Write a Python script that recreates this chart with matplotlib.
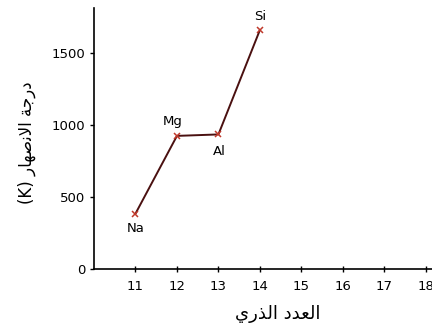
import matplotlib
matplotlib.use('Agg')
import matplotlib.pyplot as plt

plt.rcParams['font.family'] = ['DejaVu Sans']

# atomic number vs melting point (K)
atomic_number = [11, 12, 13, 14]
melting_point = [385, 925, 935, 1660]
symbols = ['Na', 'Mg', 'Al', 'Si']
x_ticks = [11, 12, 13, 14, 15, 16, 17, 18]
y_ticks = [0, 500, 1000, 1500]

# Arabic labels, pre-shaped (presentation forms, visual order)
ylabel = '(K) ' + '\uFEAD\uFE8E\uFEEC\uFEBB\uFEE7\uFEFB\uFE8D' + ' ' + '\uFE94\uFE9F\uFEAD\uFEA9'
xlabel = '\uFEF1\uFEAD\uFEAC\uFEDF\uFE8D' + ' ' + '\uFEA9\uFEAA\uFECC\uFEDF\uFE8D'

fig = plt.figure(figsize=(4.32, 3.25), dpi=100)
ax = fig.add_axes([0.2176, 0.172, 0.7824, 0.803])

ax.plot(atomic_number, melting_point, color='#4a1010', lw=1.4,
        marker='x', ms=5, mec='#c0392b', mew=1.1)

# element labels: offset in points (above / below the marker)
offsets = [(0, -11), (-3, 10), (1, -12), (0, 10)]
for x, y, s, (dx, dy) in zip(atomic_number, melting_point, symbols, offsets):
    ax.annotate(s, (x, y), xytext=(dx, dy), textcoords='offset points',
                ha='center', va='center', fontsize=9.5)

ax.set_xlim(10, 18.15)
ax.set_ylim(0, 1812)
ax.set_xticks(x_ticks)
ax.set_yticks(y_ticks)
ax.tick_params(labelsize=9.5, length=3, width=1, pad=3)
ax.tick_params(axis='x', direction='inout', length=5, pad=5)

for side in ['top', 'right']:
    ax.spines[side].set_visible(False)
ax.spines['left'].set_linewidth(1.2)
ax.spines['bottom'].set_linewidth(1.2)

ax.set_ylabel(ylabel, fontsize=12)
ax.set_xlabel(xlabel, fontsize=13)
ax.yaxis.set_label_coords(-0.172, 0.483)
ax.xaxis.set_label_coords(0.544, -0.138)

fig.savefig('out.png', dpi=100)
